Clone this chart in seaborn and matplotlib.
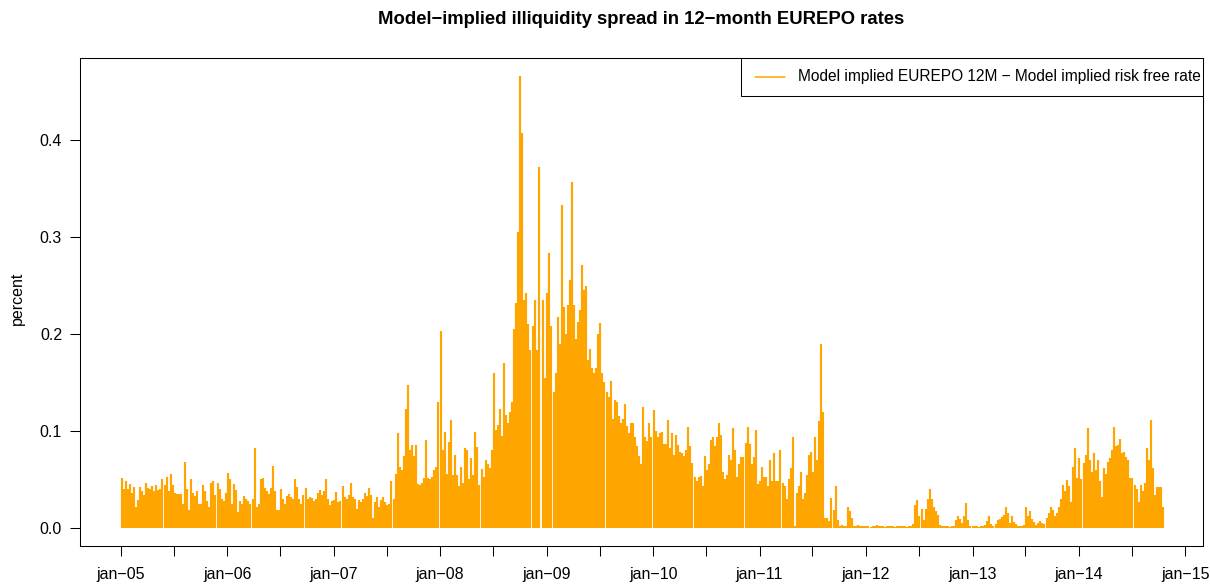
import datetime as dt

import matplotlib.pyplot as plt
import pandas as pd
import seaborn as sns
from matplotlib.patches import Rectangle

# weekly readings of the spread (percent), one list per calendar year
y2005 = [0.052, 0.040, 0.048, 0.040, 0.045, 0.036, 0.042, 0.022, 0.029, 0.042,
         0.038, 0.034, 0.046, 0.041, 0.040, 0.043, 0.038, 0.044, 0.039, 0.040,
         0.050, 0.044, 0.053, 0.038, 0.056, 0.044, 0.036, 0.035, 0.035, 0.035,
         0.025, 0.068, 0.040, 0.018, 0.050, 0.036, 0.033, 0.038, 0.025, 0.025,
         0.044, 0.038, 0.028, 0.022, 0.046, 0.048, 0.034, 0.046, 0.040, 0.030,
         0.028, 0.036]
y2006 = [0.057, 0.050, 0.025, 0.045, 0.039, 0.016, 0.028, 0.025, 0.033, 0.030,
         0.028, 0.025, 0.030, 0.082, 0.022, 0.025, 0.050, 0.052, 0.041, 0.038,
         0.035, 0.041, 0.064, 0.038, 0.018, 0.019, 0.040, 0.030, 0.025, 0.033,
         0.035, 0.032, 0.030, 0.050, 0.042, 0.030, 0.025, 0.034, 0.041, 0.030,
         0.032, 0.031, 0.028, 0.030, 0.036, 0.039, 0.034, 0.038, 0.050, 0.030,
         0.024, 0.028]
y2007 = [0.029, 0.037, 0.027, 0.028, 0.043, 0.032, 0.030, 0.034, 0.046, 0.032,
         0.030, 0.020, 0.029, 0.027, 0.030, 0.036, 0.033, 0.041, 0.034, 0.010,
         0.027, 0.032, 0.022, 0.029, 0.032, 0.027, 0.024, 0.025, 0.048, 0.030,
         0.056, 0.098, 0.063, 0.060, 0.074, 0.123, 0.147, 0.080, 0.086, 0.074,
         0.086, 0.045, 0.044, 0.046, 0.051, 0.091, 0.051, 0.050, 0.053, 0.060,
         0.063, 0.130]
y2008 = [0.203, 0.080, 0.099, 0.056, 0.089, 0.111, 0.055, 0.075, 0.055, 0.043,
         0.063, 0.046, 0.082, 0.080, 0.050, 0.072, 0.055, 0.099, 0.083, 0.044,
         0.061, 0.053, 0.070, 0.066, 0.062, 0.080, 0.160, 0.101, 0.106, 0.123,
         0.095, 0.170, 0.116, 0.108, 0.120, 0.130, 0.205, 0.232, 0.305, 0.466,
         0.407, 0.235, 0.242, 0.210, 0.183, 0.208, 0.235, 0.183, 0.372, 0.0,
         0.235, 0.155]
y2009 = [0.242, 0.283, 0.208, 0.140, 0.160, 0.218, 0.190, 0.333, 0.228, 0.200,
         0.230, 0.256, 0.357, 0.230, 0.195, 0.212, 0.225, 0.271, 0.245, 0.249,
         0.173, 0.185, 0.165, 0.160, 0.165, 0.200, 0.211, 0.160, 0.150, 0.140,
         0.135, 0.151, 0.112, 0.132, 0.130, 0.115, 0.108, 0.112, 0.128, 0.105,
         0.098, 0.108, 0.108, 0.094, 0.084, 0.074, 0.066, 0.125, 0.094, 0.090,
         0.108, 0.094]
y2010 = [0.122, 0.100, 0.094, 0.098, 0.099, 0.087, 0.087, 0.111, 0.082, 0.098,
         0.075, 0.096, 0.086, 0.078, 0.077, 0.074, 0.080, 0.104, 0.085, 0.067,
         0.053, 0.048, 0.053, 0.054, 0.043, 0.074, 0.060, 0.066, 0.091, 0.094,
         0.084, 0.094, 0.108, 0.096, 0.058, 0.050, 0.055, 0.075, 0.070, 0.103,
         0.080, 0.053, 0.066, 0.073, 0.073, 0.088, 0.104, 0.087, 0.066, 0.073,
         0.101, 0.045]
y2011 = [0.048, 0.063, 0.053, 0.053, 0.043, 0.070, 0.048, 0.077, 0.048, 0.048,
         0.080, 0.046, 0.043, 0.030, 0.050, 0.062, 0.094, 0.002, 0.036, 0.043,
         0.058, 0.030, 0.036, 0.055, 0.075, 0.078, 0.058, 0.094, 0.070, 0.110,
         0.190, 0.120, 0.010, 0.010, 0.007, 0.031, 0.018, 0.043, 0.008, 0.002,
         0.003, 0.002, 0.002, 0.022, 0.017, 0.010, 0.002, 0.002, 0.003, 0.002,
         0.002, 0.002]
y2012 = [0.002, 0.002, 0.001, 0.002, 0.002, 0.003, 0.002, 0.002, 0.002, 0.001,
         0.002, 0.002, 0.002, 0.002, 0.001, 0.002, 0.002, 0.002, 0.002, 0.002,
         0.001, 0.002, 0.002, 0.004, 0.024, 0.029, 0.012, 0.020, 0.008, 0.020,
         0.030, 0.040, 0.030, 0.022, 0.017, 0.013, 0.003, 0.002, 0.002, 0.002,
         0.002, 0.001, 0.002, 0.002, 0.008, 0.012, 0.009, 0.005, 0.012, 0.026,
         0.008, 0.002]
y2013 = [0.002, 0.002, 0.002, 0.001, 0.002, 0.002, 0.003, 0.007, 0.012, 0.004,
         0.002, 0.004, 0.008, 0.009, 0.011, 0.013, 0.022, 0.015, 0.005, 0.012,
         0.006, 0.004, 0.002, 0.002, 0.002, 0.003, 0.022, 0.012, 0.017, 0.009,
         0.006, 0.003, 0.005, 0.007, 0.005, 0.004, 0.010, 0.015, 0.022, 0.018,
         0.012, 0.015, 0.022, 0.030, 0.044, 0.038, 0.049, 0.043, 0.027, 0.063,
         0.082, 0.052]
y2014 = [0.072, 0.050, 0.067, 0.075, 0.103, 0.070, 0.058, 0.077, 0.060, 0.070,
         0.048, 0.032, 0.062, 0.056, 0.068, 0.072, 0.080, 0.104, 0.085, 0.086,
         0.092, 0.077, 0.078, 0.073, 0.070, 0.051, 0.052, 0.044, 0.040, 0.027,
         0.044, 0.038, 0.046, 0.082, 0.070, 0.111, 0.062, 0.034, 0.042, 0.042,
         0.042, 0.022]

years = [2005, 2006, 2007, 2008, 2009, 2010, 2011, 2012, 2013, 2014]
yearly = [y2005, y2006, y2007, y2008, y2009, y2010, y2011, y2012, y2013, y2014]

tick_years = list(range(2005, 2016))
tick_labels = ["jan\u2212%02d" % (y % 100) for y in tick_years]
y_ticks = [0.0, 0.1, 0.2, 0.3, 0.4]

title = "Model\u2212implied illiquidity spread in 12\u2212month EUREPO rates"
legend_label = "Model implied EUREPO 12M \u2212 Model implied risk free rate"


def main():
    parts = []
    for year, vals in zip(years, yearly):
        dates = pd.date_range(f"{year}-01-03", periods=len(vals), freq="7D")
        parts.append(pd.DataFrame({"date": dates, "spread": vals}))
    df = pd.concat(parts, ignore_index=True)

    sns.set_theme(style="white")
    plt.rcParams["font.family"] = ["Liberation Sans", "DejaVu Sans"]

    W, H = 1210, 585
    fig = plt.figure(figsize=(W / 100, H / 100), dpi=100)
    left, right, top, bottom = 80, 1203, 58, 546
    ax = fig.add_axes([left / W, 1 - bottom / H, (right - left) / W, (bottom - top) / H])

    ax.vlines(df["date"], 0, df["spread"], color="#FFA500", linewidth=1.55)

    ax.set_xlim(dt.date(2004, 8, 13), dt.date(2015, 3, 3))
    ax.set_ylim(-0.0186, 0.4845)

    ax.set_xticks([dt.date(y, 1, 1) for y in tick_years])
    ax.set_xticklabels(tick_labels)
    ax.set_xticks([dt.date(y, 7, 1) for y in tick_years[:-1]], minor=True)
    ax.set_yticks(y_ticks)
    ax.set_yticklabels(["%.1f" % v for v in y_ticks])

    ax.tick_params(axis="both", which="both", direction="out", length=6.9,
                   width=0.75, color="black", labelsize=11.5, pad=6,
                   labelcolor="black", bottom=True, left=True)
    ax.tick_params(axis="x", which="both", pad=8)
    for sp in ax.spines.values():
        sp.set_color("black")
        sp.set_linewidth(0.75)
    ax.grid(False)

    # legend box drawn in the style of the original (text runs past the frame)
    box_x0 = (741 - left) / (right - left)
    box_y0 = (bottom - 96) / (bottom - top)
    ax.add_patch(Rectangle((box_x0, box_y0), 1 - box_x0, 1 - box_y0,
                           transform=ax.transAxes, facecolor="white",
                           edgecolor="black", linewidth=0.75, zorder=3))
    ly = (bottom - 77) / (bottom - top)
    ax.plot([(755 - left) / (right - left), (785 - left) / (right - left)], [ly, ly],
            transform=ax.transAxes, color="#FFA500", linewidth=1.1, zorder=4)
    ax.text((798 - left) / (right - left), ly, legend_label, transform=ax.transAxes,
            ha="left", va="center", fontsize=11.2, color="black", zorder=4,
            clip_on=True)

    fig.text(641 / W, 1 - 24 / H, title, ha="center", va="baseline",
             fontsize=13.3, fontweight="bold", color="black")
    fig.text(17 / W, 1 - 298 / H, "percent", rotation=90, ha="center",
             va="center", fontsize=11.5, color="black")

    fig.savefig("out.png", dpi=100)


if __name__ == "__main__":
    main()
